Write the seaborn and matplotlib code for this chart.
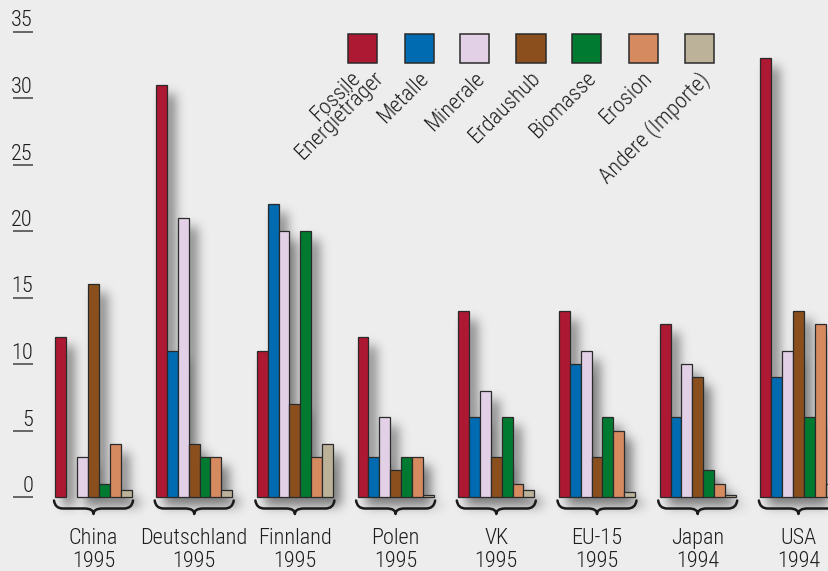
import numpy as np
import pandas as pd
import matplotlib
matplotlib.use("Agg")
import matplotlib.pyplot as plt
import seaborn as sns
from matplotlib.patches import Rectangle, PathPatch
from matplotlib.path import Path

# ---------------- data ----------------
group_names = ["China", "Deutschland", "Finnland", "Polen", "VK", "EU-15", "Japan", "USA"]
group_years = ["1995", "1995", "1995", "1995", "1995", "1995", "1994", "1994"]
categories = ["Fossile Energieträger", "Metalle", "Minerale", "Erdaushub",
              "Biomasse", "Erosion", "Andere (Importe)"]
fossile   = [12, 31, 11, 12, 14, 14, 13, 33]
metalle   = [np.nan, 11, 22, 3, 6, 10, 6, 9]
minerale  = [3, 21, 20, 6, 8, 11, 10, 11]
erdaushub = [16, 4, 7, 2, 3, 3, 9, 14]
biomasse  = [1, 3, 20, 3, 6, 6, 2, 6]
erosion   = [4, 3, 3, 3, 1, 5, 1, 13]
andere    = [0.5, 0.5, 4, 0.12, 0.5, 0.35, 0.12, 1]
y_ticks = [0, 5, 10, 15, 20, 25, 30, 35]
colors = ["#AD1832", "#006BB0", "#E2D0E6", "#8B4F1E", "#007A31", "#D68A5F", "#BCB29A"]

series = [fossile, metalle, minerale, erdaushub, biomasse, erosion, andere]
rows = []
for cat, vals in zip(categories, series):
    for g, v in zip(group_names, vals):
        if np.isfinite(v):
            rows.append({"group": g, "cat": cat, "value": v})
df = pd.DataFrame(rows)

# ---------------- geometry helpers (pixel -> data) ----------------
W, H = 829, 571
X0PX, XSTEP = 93.5, 100.7      # center of first group, spacing
Y0PX, YSCALE = 497.0, 13.3     # pixel row of value 0, px per unit

def px2x(px):
    return (px - X0PX) / XSTEP

def px2y(py):
    return (Y0PX - py) / YSCALE

BG = "#EDEDED"
FONT = ["Roboto Condensed", "DejaVu Sans"]
FW = "light"
FS = 16
TXT = "#1e1e1e"

fig = plt.figure(figsize=(W / 100, H / 100), dpi=100)
fig.patch.set_facecolor(BG)
ax = fig.add_axes([0, 0, 1, 1])
ax.set_facecolor(BG)

sns.barplot(data=df, x="group", y="value", hue="cat", order=group_names,
            hue_order=categories, palette=colors, width=0.755, saturation=1,
            edgecolor="#2a2a2a", linewidth=0.9, errorbar=None, legend=False, ax=ax)

xlim = (px2x(0), px2x(W))
ylim = (px2y(H), px2y(0))
ax.set_xlim(*xlim)
ax.set_ylim(*ylim)
ax.set_axis_off()

# ---------------- soft drop shadow of bars ----------------
mask = np.zeros((H, W))
for p in ax.patches:
    if not isinstance(p, Rectangle):
        continue
    h = p.get_height()
    if not np.isfinite(h) or h <= 0:
        continue
    (ax0, ay0), (ax1, ay1) = ax.transData.transform(
        [(p.get_x(), p.get_y()), (p.get_x() + p.get_width(), p.get_y() + h)])
    r0, r1 = int(round(H - ay1)), int(round(H - ay0))
    c0, c1 = int(round(ax0)), int(round(ax1))
    mask[max(r0, 0):max(r1, 0), max(c0, 0):min(c1, W)] = 1.0

dx, dy = 8, 9
sh = np.zeros_like(mask)
sh[dy:, dx:] = mask[:-dy, :-dx]
sig = 5.5
k = np.arange(-16, 17)
kern = np.exp(-k ** 2 / (2 * sig ** 2))
kern /= kern.sum()
sh = np.apply_along_axis(lambda r: np.convolve(r, kern, mode="same"), 1, sh)
sh = np.apply_along_axis(lambda c: np.convolve(c, kern, mode="same"), 0, sh)
rgba = np.zeros((H, W, 4))
rgba[..., :3] = 0.18
rgba[..., 3] = np.clip(sh, 0, 1) * 0.6
ax.imshow(rgba, extent=(xlim[0], xlim[1], ylim[0], ylim[1]), origin="upper",
          aspect="auto", zorder=0.5, interpolation="bilinear")
ax.set_xlim(*xlim)
ax.set_ylim(*ylim)

# ---------------- y tick labels with underline ----------------
for v in y_ticks:
    ax.plot([px2x(13), px2x(33)], [v, v], color="#666666", lw=1.4,
            solid_capstyle="butt", zorder=3)
    ax.text(px2x(33), v + 5 / YSCALE, str(v), ha="right", va="baseline",
            fontsize=FS, color=TXT, family=FONT, weight=FW, zorder=3)

# ---------------- braces and group labels ----------------
def brace(cx_px):
    L, R = cx_px - 39.5, cx_px + 39.5
    M = cx_px
    y0, y1, y2 = 500.5, 508.5, 514
    q = 9
    pts = [(L, y0), (L + 1, y1), (L + q, y1), (M - q, y1), (M, y1), (M, y2),
           (M, y1), (M + q, y1), (R - q, y1), (R - 1, y1), (R, y0)]
    codes = [Path.MOVETO, Path.CURVE3, Path.CURVE3, Path.LINETO, Path.CURVE3, Path.CURVE3,
             Path.CURVE3, Path.CURVE3, Path.LINETO, Path.CURVE3, Path.CURVE3]
    verts = [(px2x(a), px2y(b)) for a, b in pts]
    ax.add_patch(PathPatch(Path(verts, codes), fill=False, edgecolor="#1a1a1a",
                           lw=1.8, zorder=3, capstyle="round", joinstyle="round"))

for i, (gname, gyear) in enumerate(zip(group_names, group_years)):
    cx = X0PX + i * XSTEP
    brace(cx)
    ax.text(i, px2y(544), gname, ha="center", va="baseline", fontsize=FS,
            color=TXT, family=FONT, weight=FW, zorder=3)
    ax.text(i, px2y(567), gyear, ha="center", va="baseline", fontsize=FS,
            color=TXT, family=FONT, weight=FW, zorder=3)

# ---------------- legend ----------------
sq_size = 29
for j, (cat, col) in enumerate(zip(categories, colors)):
    cxp = 363 + 56 * j
    x_l, x_r = px2x(cxp - sq_size / 2), px2x(cxp + sq_size / 2)
    y_t, y_b = px2y(34), px2y(63)
    ax.add_patch(Rectangle((x_l, y_b), x_r - x_l, y_t - y_b, facecolor=col,
                           edgecolor="#2a2a2a", lw=1.1, zorder=3))
    kw = dict(rotation=45, rotation_mode="anchor", ha="right", va="top",
              fontsize=FS, color=TXT, family=FONT, weight=FW, zorder=3)
    if j == 0:
        ax.text(px2x(cxp - 13), px2y(68), "Fossile", **kw)
        ax.text(px2x(cxp + 10), px2y(68), "Energieträger", **kw)
    else:
        ax.text(px2x(cxp - 1), px2y(68), cat, **kw)

fig.savefig("out.png", dpi=100, facecolor=BG)
